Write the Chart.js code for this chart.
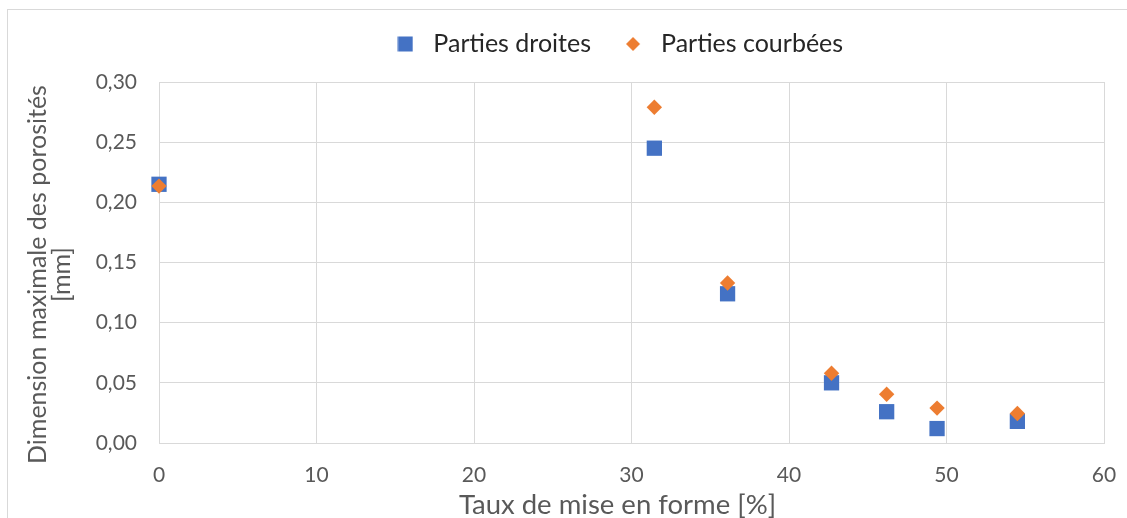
<!DOCTYPE html>
<html>
<head>
<meta charset="utf-8">
<script src="https://cdn.jsdelivr.net/npm/chart.js@4/dist/chart.umd.min.js"></script>
<style>
  html, body { margin: 0; padding: 0; background: #fff; overflow: hidden; }
  #frame { position: absolute; left: 7px; top: 9px; width: 1200px; height: 600px;
           border-left: 1px solid #d9d9d9; border-top: 1px solid #d9d9d9; }
  #chart { position: absolute; left: 0; top: 0; }
</style>
</head>
<body>
<div id="frame"></div>
<canvas id="chart" width="1127" height="518"></canvas>
<script>
// Taux de mise en forme (%) des éprouvettes
const taux = [0, 31.45, 36.1, 42.7, 46.2, 49.4, 54.5];
// Dimension maximale des porosités (mm)
const partiesDroites = [0.215, 0.245, 0.124, 0.050, 0.026, 0.012, 0.018];
const partiesCourbees = [0.2135, 0.279, 0.133, 0.058, 0.0405, 0.029, 0.0245];
const xTicks = [0, 10, 20, 30, 40, 50, 60];
const yTicks = [0, 0.05, 0.10, 0.15, 0.20, 0.25, 0.30];

const BLUE = '#4472c4';
const ORANGE = '#ed7d31';
const FONT = 'Lato';

function points(ys) {
  return taux.map((x, i) => ({ x: x, y: ys[i] }));
}

// petites icônes pour la légende
function icon(kind, color) {
  const c = document.createElement('canvas');
  c.width = 16; c.height = 16;
  const g = c.getContext('2d');
  g.fillStyle = color;
  if (kind === 'square') {
    g.fillRect(0.5, 0.5, 15, 15);
  } else {
    g.beginPath();
    g.moveTo(8, 1); g.lineTo(15, 8); g.lineTo(8, 15); g.lineTo(1, 8);
    g.closePath(); g.fill();
  }
  return c;
}
const icons = [icon('square', BLUE), icon('diamond', ORANGE)];

function shiftTitle(scale, dx, dy) {
  if (scale._titleShifted) return;
  const draw = scale.drawTitle;
  scale.drawTitle = function () {
    this.ctx.save();
    this.ctx.translate(dx, dy);
    draw.call(this);
    this.ctx.restore();
  };
  scale._titleShifted = true;
}

// hauteur fixe de la légende, décalée vers la droite ; titres d'axes légèrement déplacés
const layoutTweaks = {
  id: 'layoutTweaks',
  beforeInit(chart) {
    const fit = chart.legend.fit;
    chart.legend.fit = function () {
      fit.call(this);
      this.height = 77;
    };
  },
  afterLayout(chart) {
    chart.legend.left += 61;
    chart.legend.right += 61;
    shiftTitle(chart.scales.y, 0, 12);
    shiftTitle(chart.scales.x, -14, 0);
  }
};

new Chart(document.getElementById('chart'), {
  type: 'scatter',
  data: {
    datasets: [{
      label: 'Parties droites',
      data: points(partiesDroites),
      pointStyle: 'rect',
      pointRadius: 10.8,
      pointHoverRadius: 10.8,
      backgroundColor: BLUE,
      borderWidth: 0,
      clip: false,
      order: 2
    }, {
      label: 'Parties courbées',
      data: points(partiesCourbees),
      pointStyle: 'rectRot',
      pointRadius: 7.7,
      pointHoverRadius: 7.7,
      backgroundColor: ORANGE,
      borderWidth: 0,
      clip: false,
      order: 1
    }]
  },
  options: {
    responsive: false,
    animation: false,
    layout: { padding: { left: 7, right: 23, top: 5, bottom: 0 } },
    plugins: {
      tooltip: { enabled: false },
      legend: {
        position: 'top',
        labels: {
          usePointStyle: true,
          pointStyleWidth: 31,
          padding: 26.5,
          color: '#262626',
          font: { family: FONT, size: 25 },
          sort: (a, b) => a.datasetIndex - b.datasetIndex,
          generateLabels(chart) {
            const items = Chart.defaults.plugins.legend.labels.generateLabels(chart);
            items.forEach(it => { it.pointStyle = icons[it.datasetIndex]; });
            return items;
          }
        }
      }
    },
    scales: {
      x: {
        type: 'linear',
        min: 0,
        max: 60,
        afterFit(scale) {
          scale.height = 75;
          scale.paddingLeft = 0;
          scale.paddingRight = 0;
        },
        afterBuildTicks(scale) { scale.ticks = xTicks.map(v => ({ value: v })); },
        grid: { color: '#d9d9d9', drawTicks: false },
        border: { color: '#d9d9d9' },
        ticks: { padding: 20, color: '#595959', font: { family: FONT, size: 21 } },
        title: {
          display: true,
          text: 'Taux de mise en forme [%]',
          color: '#595959',
          font: { family: FONT, size: 27.5, lineHeight: 0.85 },
          padding: { top: 0, bottom: 1 }
        }
      },
      y: {
        min: 0,
        max: 0.3,
        afterFit(scale) { scale.width = 152; },
        afterBuildTicks(scale) { scale.ticks = yTicks.map(v => ({ value: v })); },
        grid: { color: '#d9d9d9', drawTicks: false },
        border: { color: '#d9d9d9' },
        ticks: {
          padding: 22,
          color: '#595959',
          font: { family: FONT, size: 21 },
          callback: v => v.toFixed(2).replace('.', ',')
        },
        title: {
          display: true,
          text: ['Dimension maximale des porosités', '[mm]'],
          color: '#595959',
          font: { family: FONT, size: 25, lineHeight: '24px' },
          padding: { top: 19, bottom: 0 }
        }
      }
    }
  },
  plugins: [layoutTweaks]
});
</script>
</body>
</html>
